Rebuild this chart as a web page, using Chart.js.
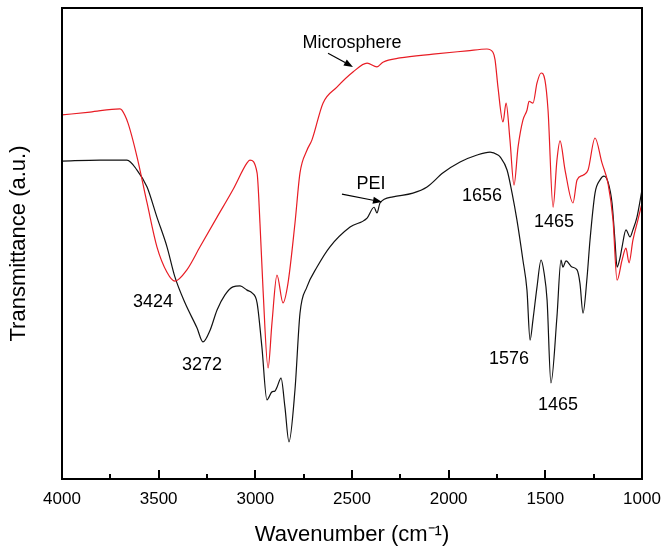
<!DOCTYPE html>
<html>
<head>
<meta charset="utf-8">
<script src="https://cdn.jsdelivr.net/npm/chart.js"></script>
<style>
  html, body { margin: 0; padding: 0; background: #fff; }
</style>
</head>
<body>
<canvas id="ftir" width="668" height="556"></canvas>
<script>
// Microsphere spectrum (red), wavenumber / transmittance (a.u.)
const microWn = [4000, 3855, 3700, 3690, 3659, 3612, 3560, 3509, 3457, 3416, 3354, 3286, 3198, 3116, 3043, 3028, 2991, 2976, 2960, 2934, 2914, 2888, 2857, 2831, 2795, 2769, 2733, 2707, 2650, 2578, 2495, 2422, 2371, 2340, 2252, 2081, 1905, 1802, 1771, 1760, 1745, 1719, 1703, 1683, 1662, 1641, 1616, 1595, 1584, 1564, 1543, 1522, 1502, 1486, 1460, 1440, 1424, 1398, 1357, 1336, 1305, 1279, 1243, 1207, 1176, 1150, 1129, 1103, 1083, 1067, 1047, 1021, 1000];
const microT = [77.3, 77.9, 78.6, 78.3, 75.6, 68.4, 58.6, 49.3, 43.9, 42.0, 44.4, 49.3, 55.6, 61.4, 67.1, 67.7, 65.0, 54.3, 40.1, 23.6, 33.1, 43.3, 37.4, 41.6, 54.3, 65.0, 69.8, 72.0, 79.8, 83.2, 86.4, 88.3, 87.5, 88.5, 89.4, 90.2, 90.9, 91.3, 90.6, 89.0, 83.2, 75.8, 79.8, 72.0, 62.4, 70.5, 76.2, 78.3, 80.2, 79.8, 84.1, 86.2, 84.7, 78.3, 57.7, 67.7, 71.8, 65.6, 58.6, 63.5, 64.5, 65.6, 72.4, 67.1, 62.8, 55.0, 42.2, 46.5, 49.0, 45.9, 50.7, 55.0, 58.6];

// PEI spectrum (black)
const peiWn = [4000, 3803, 3664, 3612, 3560, 3509, 3457, 3416, 3364, 3302, 3271, 3234, 3198, 3157, 3116, 3079, 3043, 3017, 2991, 2966, 2940, 2914, 2898, 2888, 2867, 2847, 2826, 2795, 2769, 2733, 2681, 2614, 2510, 2422, 2386, 2371, 2355, 2288, 2185, 2112, 2029, 1941, 1853, 1786, 1745, 1734, 1698, 1672, 1647, 1616, 1595, 1579, 1564, 1543, 1522, 1507, 1491, 1471, 1440, 1419, 1409, 1393, 1362, 1336, 1321, 1305, 1284, 1269, 1243, 1217, 1197, 1176, 1155, 1140, 1129, 1114, 1103, 1083, 1062, 1047, 1026, 1000];
const peiT = [67.5, 67.7, 67.7, 65.6, 62.0, 55.6, 49.3, 42.9, 37.4, 32.1, 29.1, 31.6, 35.9, 39.1, 40.8, 41.0, 40.1, 39.5, 37.4, 28.0, 16.8, 18.5, 18.7, 19.5, 21.4, 15.3, 7.9, 18.9, 35.2, 40.8, 45.0, 49.3, 53.5, 55.4, 57.7, 56.5, 58.6, 59.9, 60.7, 62.0, 65.0, 67.3, 68.8, 69.4, 68.8, 68.4, 65.6, 60.7, 55.0, 46.5, 40.1, 29.5, 33.8, 40.8, 46.5, 43.9, 38.0, 20.4, 34.4, 46.5, 45.0, 46.3, 45.0, 44.4, 41.6, 35.2, 42.9, 50.7, 60.7, 63.5, 64.3, 63.1, 58.6, 50.7, 45.0, 46.9, 49.3, 52.9, 51.4, 52.9, 55.6, 61.4];

const majorTicks = [4000, 3500, 3000, 2500, 2000, 1500, 1000];
const minorTicks = [3750, 3250, 2750, 2250, 1750, 1250];

// peak labels: text, wavenumber, transmittance
const peakText = ['Microsphere', 'PEI', '3424', '3272', '1656', '1465', '1576', '1465'];
const peakWn = [2500, 2402, 3529, 3276, 1828, 1455, 1688, 1434];
const peakT = [92.6, 62.6, 37.6, 24.2, 60.1, 54.6, 25.5, 15.7];

// arrows: from (wn, T) to (wn, T)
const arrowFrom = [[2624, 90.4], [2552, 60.5]];
const arrowTo = [[2495, 87.5], [2345, 58.8]];

const FONT = "'Liberation Sans', Arial, sans-serif";

const toXY = (wn, t) => wn.map((w, i) => ({ x: w, y: t[i] }));

const framePlugin = {
    id: 'frame',
    afterDraw(chart) {
        const ctx = chart.ctx;
        const a = chart.chartArea;
        const xs = chart.scales.x;
        ctx.save();
        ctx.strokeStyle = '#000';
        ctx.lineWidth = 2;
        ctx.strokeRect(a.left, a.top, a.right - a.left, a.bottom - a.top);

        // inward ticks on the bottom axis
        ctx.beginPath();
        majorTicks.forEach(v => {
            const px = Math.round(xs.getPixelForValue(v));
            ctx.moveTo(px, a.bottom);
            ctx.lineTo(px, a.bottom - 9);
        });
        minorTicks.forEach(v => {
            const px = Math.round(xs.getPixelForValue(v));
            ctx.moveTo(px, a.bottom);
            ctx.lineTo(px, a.bottom - 5);
        });
        ctx.stroke();
        ctx.restore();
    }
};

const labelPlugin = {
    id: 'peaks',
    afterDatasetsDraw(chart) {
        const ctx = chart.ctx;
        const xs = chart.scales.x;
        const ys = chart.scales.y;
        ctx.save();
        ctx.fillStyle = '#000';
        ctx.font = '18px ' + FONT;
        ctx.textAlign = 'center';
        ctx.textBaseline = 'middle';
        peakText.forEach((t, i) => {
            ctx.fillText(t, xs.getPixelForValue(peakWn[i]), ys.getPixelForValue(peakT[i]));
        });

        ctx.strokeStyle = '#000';
        ctx.lineWidth = 1.2;
        arrowFrom.forEach((f, i) => {
            const x1 = xs.getPixelForValue(f[0]), y1 = ys.getPixelForValue(f[1]);
            const x2 = xs.getPixelForValue(arrowTo[i][0]), y2 = ys.getPixelForValue(arrowTo[i][1]);
            const ang = Math.atan2(y2 - y1, x2 - x1);
            const hl = 9, hw = 3.5;
            const bx = x2 - hl * Math.cos(ang), by = y2 - hl * Math.sin(ang);
            ctx.beginPath();
            ctx.moveTo(x1, y1);
            ctx.lineTo(bx, by);
            ctx.stroke();
            ctx.beginPath();
            ctx.moveTo(x2, y2);
            ctx.lineTo(bx + hw * Math.sin(ang), by - hw * Math.cos(ang));
            ctx.lineTo(bx - hw * Math.sin(ang), by + hw * Math.cos(ang));
            ctx.closePath();
            ctx.fill();
        });
        ctx.restore();
    }
};

new Chart(document.getElementById('ftir'), {
    type: 'line',
    data: {
        datasets: [
            {
                label: 'Microsphere',
                data: toXY(microWn, microT),
                borderColor: 'rgb(232, 28, 36)',
                borderWidth: 1.2,
                pointRadius: 0,
                cubicInterpolationMode: 'monotone',
            },
            {
                label: 'PEI',
                data: toXY(peiWn, peiT),
                borderColor: '#111',
                borderWidth: 1.2,
                pointRadius: 0,
                cubicInterpolationMode: 'monotone',
            }
        ]
    },
    options: {
        responsive: false,
        animation: false,
        devicePixelRatio: 1,
        layout: { padding: { top: 8, right: 26, left: 0, bottom: 0 } },
        plugins: {
            legend: { display: false },
            tooltip: { enabled: false },
        },
        scales: {
            x: {
                type: 'linear',
                reverse: true,
                min: 1000,
                max: 4000,
                afterFit: (s) => { s.height = 77; },
                afterBuildTicks: (s) => { s.ticks = majorTicks.map(v => ({ value: v })); },
                grid: { display: false },
                border: { display: false },
                ticks: {
                    color: '#000',
                    padding: 2,
                    maxRotation: 0,
                    font: { family: FONT, size: 17 },
                    callback: (v) => String(v),
                },
                title: {
                    display: true,
                    text: 'Wavenumber (cm\u207B\u00B9)',
                    color: '#000',
                    padding: { top: 8, bottom: 8 },
                    font: { family: FONT, size: 22 },
                },
            },
            y: {
                min: 0,
                max: 100,
                afterFit: (s) => { s.width = 62; },
                grid: { display: false },
                border: { display: false },
                ticks: { display: false },
                title: {
                    display: true,
                    text: 'Transmittance (a.u.)',
                    color: '#000',
                    padding: { top: 6, bottom: 0 },
                    font: { family: FONT, size: 22 },
                },
            }
        }
    },
    plugins: [framePlugin, labelPlugin]
});
</script>
</body>
</html>
